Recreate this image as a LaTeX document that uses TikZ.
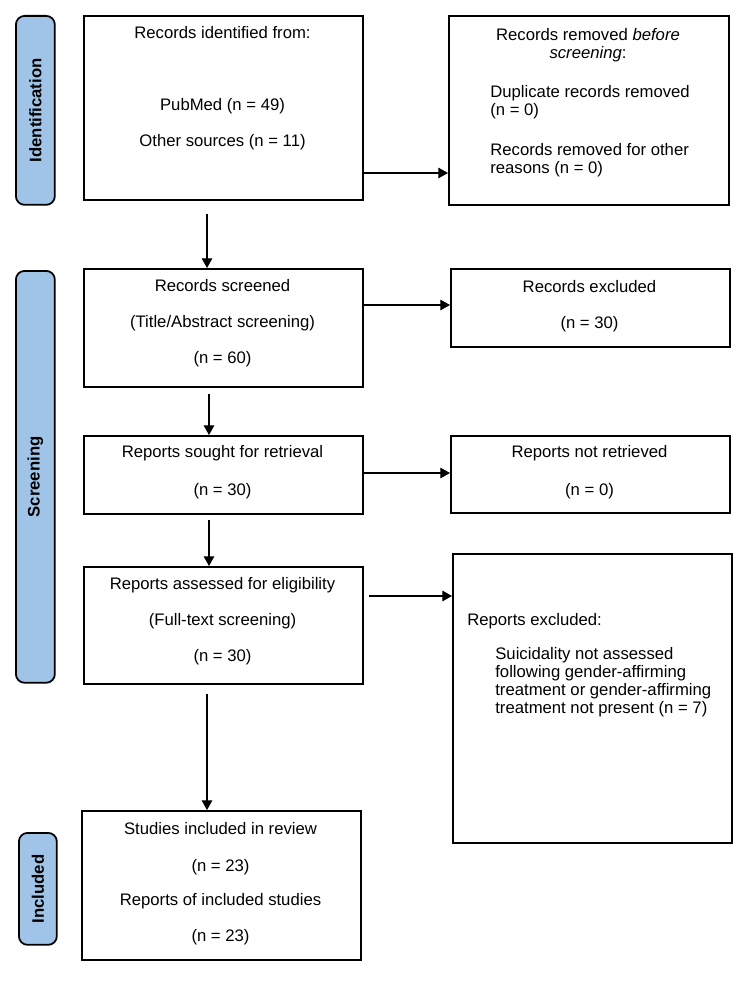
\documentclass[tikz,border=0pt]{standalone}
\usepackage{fontspec}
\setmainfont{Liberation Sans}
\usetikzlibrary{arrows.meta}
\definecolor{phaseblue}{RGB}{160,196,232}

\begin{document}
\begin{tikzpicture}[x=0.02cm,y=-0.02cm,
    font=\fontsize{9.5pt}{10.2pt}\selectfont,
    stagebox/.style={draw,line width=0.9pt,anchor=north west,inner sep=0pt,minimum width=5.58cm},
    phase/.style={draw,line width=1pt,rounded corners=5pt,fill=phaseblue,anchor=north west,inner sep=0pt},
    phaselbl/.style={rotate=90,inner sep=0pt,font=\fontsize{9.5pt}{10.2pt}\selectfont\bfseries},
    txt/.style={inner sep=0pt},
    flow/.style={line width=0.6pt,-{Triangle[length=5.5pt,width=6pt]}}]
\useasboundingbox (0,0) rectangle (750,990);

\node[phase,minimum width=0.78cm,minimum height=3.78cm] (idside) at (15,15) {};
\node[phase,minimum width=0.78cm,minimum height=8.24cm] (scrside) at (15,270) {};
\node[phase,minimum width=0.76cm,minimum height=2.24cm] (incside) at (18,832) {};
\node[phaselbl] (idlbl) at (idside.center) {Identification};
\node[phaselbl] (scrlbl) at (scrside.center) {Screening};
\node[phaselbl] (inclbl) at (incside.center) {Included};

\node[stagebox,minimum height=3.68cm] (ident) at (83,15) {};
\node[stagebox,minimum width=5.6cm,minimum height=3.78cm] (removed) at (448,15) {};
\node[stagebox,minimum height=2.36cm] (screened) at (83,268) {};
\node[stagebox,minimum height=1.56cm] (excluded) at (450,268) {};
\node[stagebox,minimum height=1.56cm] (sought) at (83,435) {};
\node[stagebox,minimum height=1.54cm] (notretr) at (450,435) {};
\node[stagebox,minimum height=2.34cm] (assessed) at (83,566) {};
\node[stagebox,minimum height=5.78cm] (repexcl) at (452,553) {};
\node[stagebox,minimum height=2.98cm] (included) at (81,810) {};

\node[txt] (t1a) at (222.5,33) {Records identified from:};
\node[txt] (t1b) at (222.5,106) {PubMed (n = 49)};
\node[txt] (t1c) at (222.5,142) {Other sources (n = 11)};

\node[txt,anchor=north,align=center] (t2a) at (588,28) {Records removed \textit{before}\\\textit{screening}:};
\node[txt,anchor=north west,align=left] (t2b) at (490,85) {Duplicate records removed\\(n = 0)};
\node[txt,anchor=north west,align=left] (t2c) at (490,143) {Records removed for other\\reasons (n = 0)};

\node[txt] (t3a) at (222.5,286) {Records screened};
\node[txt] (t3b) at (222.5,323) {(Title/Abstract screening)};
\node[txt] (t3c) at (222.5,359) {(n = 60)};

\node[txt] (t4a) at (589.5,287) {Records excluded};
\node[txt] (t4b) at (589.5,324) {(n = 30)};

\node[txt] (t5a) at (222.5,453) {Reports sought for retrieval};
\node[txt] (t5b) at (222.5,491) {(n = 30)};

\node[txt] (t6a) at (589.5,453) {Reports not retrieved};
\node[txt] (t6b) at (589.5,491) {(n = 0)};

\node[txt] (t7a) at (222.5,585) {Reports assessed for eligibility};
\node[txt] (t7b) at (222.5,621) {(Full-text screening)};
\node[txt] (t7c) at (222.5,657) {(n = 30)};

\node[txt,anchor=north west] (t8a) at (467,613) {Reports excluded:};
\node[txt,anchor=north west,align=left] (t8b) at (495,647) {Suicidality not assessed\\following gender-affirming\\treatment or gender-affirming\\treatment not present (n = 7)};

\node[txt] (t9a) at (220.5,829) {Studies included in review};
\node[txt] (t9b) at (220.5,867) {(n = 23)};
\node[txt] (t9c) at (220.5,901) {Reports of included studies};
\node[txt] (t9d) at (220.5,937) {(n = 23)};

\draw[flow] (ident.east |- 0,173) -- (removed.west |- 0,173);
\draw[flow] (ident.south -| 207,0) ++(0,13) -- (screened.north -| 207,0);
\draw[flow] (screened.east |- 0,305) -- (excluded.west |- 0,305);
\draw[flow] (screened.south -| 209,0) ++(0,6) -- (sought.north -| 209,0);
\draw[flow] (sought.east |- 0,473) -- (notretr.west |- 0,473);
\draw[flow] (sought.south -| 209,0) ++(0,5) -- (assessed.north -| 209,0);
\draw[flow] (assessed.east |- 0,596) ++(5,0) -- (repexcl.west |- 0,596);
\draw[flow] (assessed.south -| 207,0) ++(0,9) -- (included.north -| 207,0);
\end{tikzpicture}
\end{document}
